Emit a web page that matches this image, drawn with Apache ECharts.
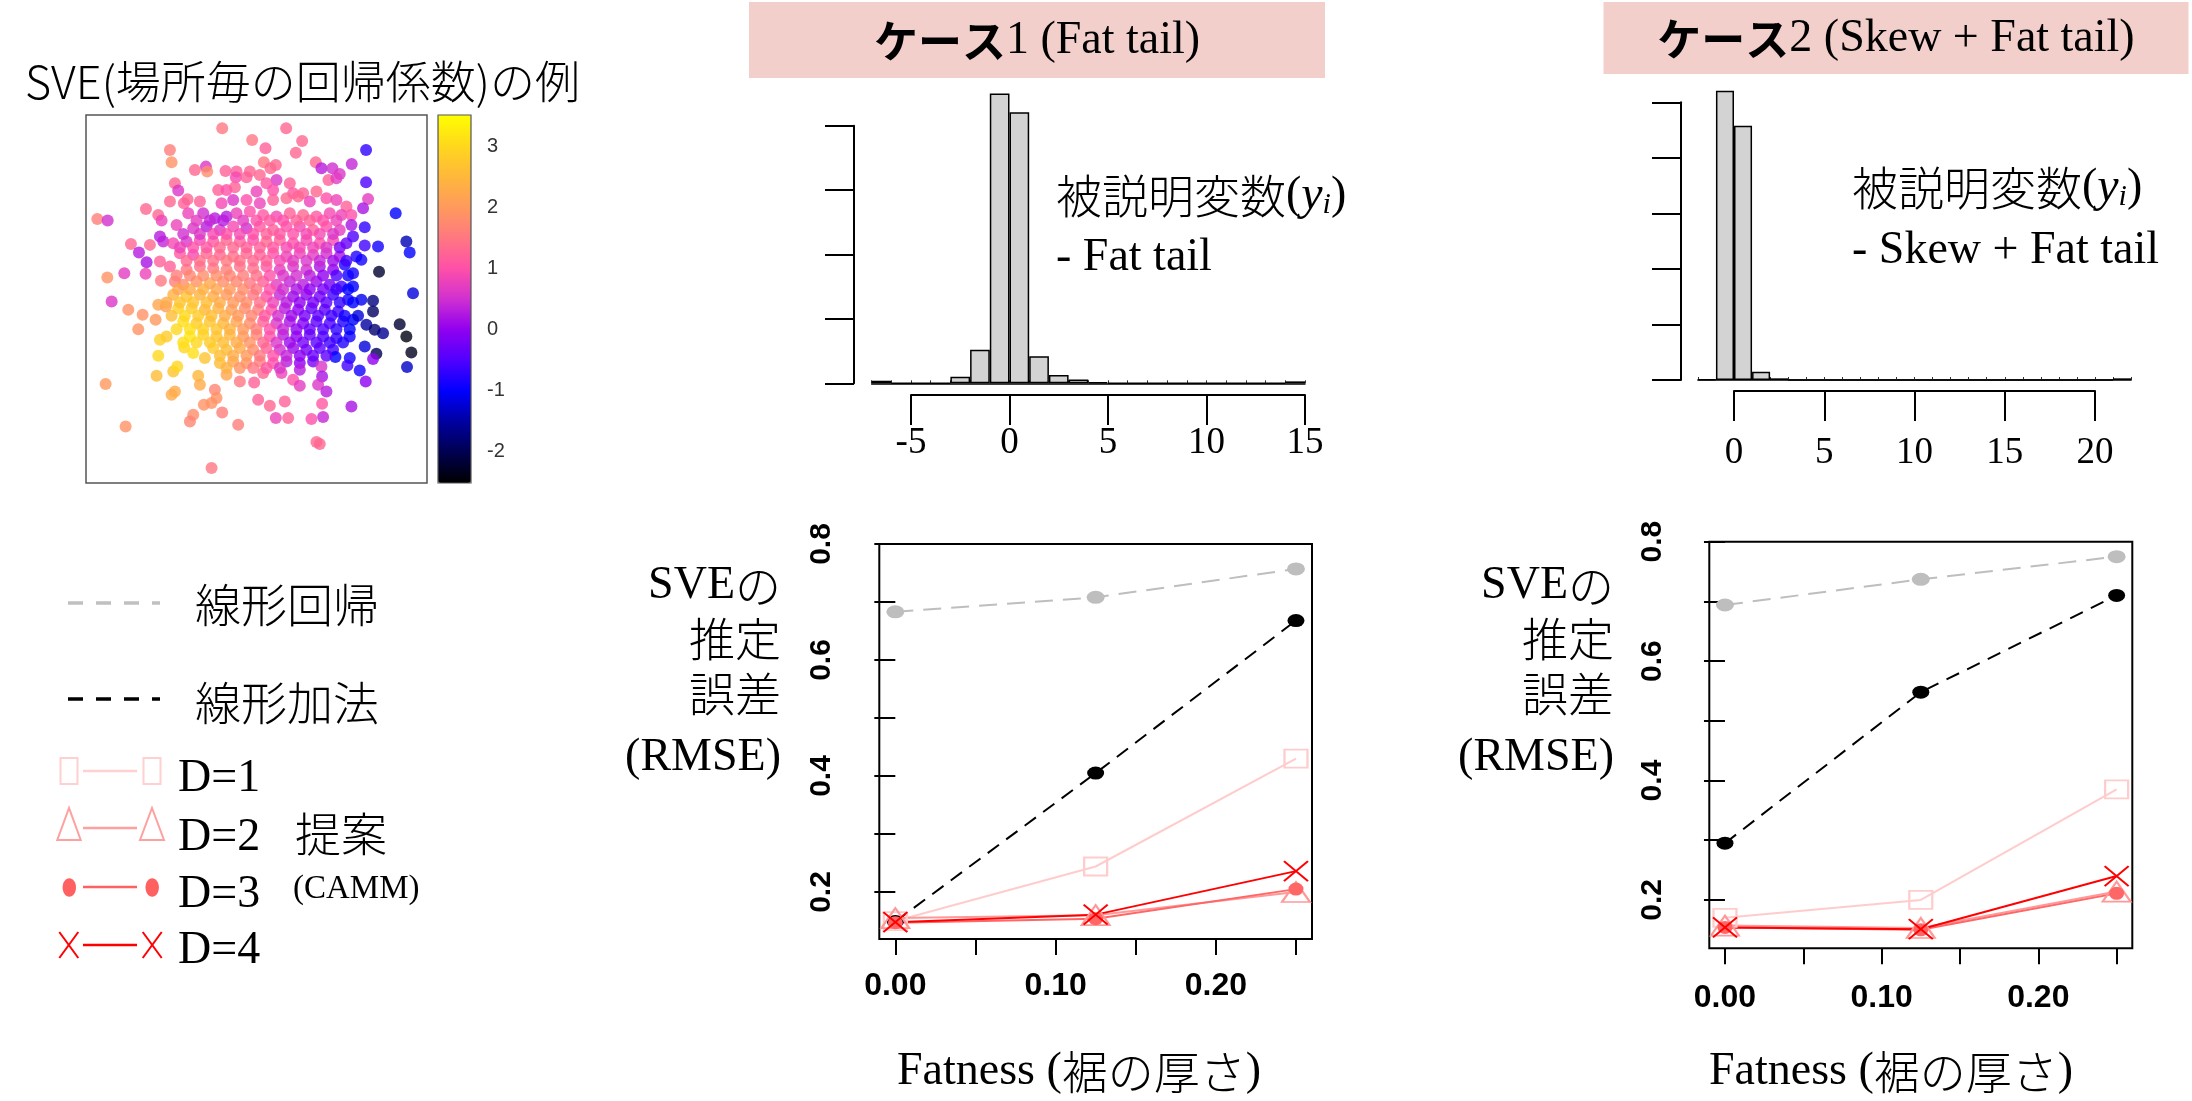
<!DOCTYPE html>
<html><head><meta charset="utf-8">
<script src="https://cdn.jsdelivr.net/npm/echarts@6/dist/echarts.min.js"></script>
<style>html,body{margin:0;padding:0;background:#fff}#c{width:2192px;height:1101px}</style>
</head><body><div id="c"></div><script>
// ---------- DATA ----------
// SVE example: [easting, northing, local coefficient]
const svePoints = [
[4.87,11.15,1.5],[6.79,11.15,1.3],[5.77,10.80,1.5],[7.27,10.77,1.3],[6.17,10.55,1.2],[7.08,10.42,1.3],[3.30,10.50,1.6],[9.19,10.50,-0.7],
[3.35,10.13,1.9],[4.38,10.00,0.6],[4.05,9.90,1.3],[4.42,9.85,1.8],[4.97,9.87,1.2],[5.30,9.85,1.2],[5.70,9.85,1.3],[6.12,10.13,1.5],[6.48,10.05,1.3],[6.32,9.95,1.3],[7.68,10.13,1.3],[7.85,9.95,0.3],[8.18,9.95,0.5],[8.76,10.08,0.4],[8.40,9.78,0.6],
[5.28,9.68,0.9],[5.60,9.68,1.2],[6.00,9.75,1.3],[6.50,9.60,0.6],[6.20,9.50,1.1],[6.90,9.50,1.2],[8.06,9.60,1.2],[8.30,9.65,0.7],[9.19,9.53,-0.5],[3.45,9.50,1.3],[3.55,9.28,0.6],[4.75,9.30,1.2],[5.00,9.30,1.0],[5.25,9.38,1.2],[5.90,9.25,0.8],[6.40,9.30,1.0],[7.00,9.20,1.1],[7.70,9.25,1.3],[7.30,9.20,1.2],
[3.30,8.95,1.3],[3.83,9.02,1.3],[3.72,8.90,1.2],[4.20,8.95,1.2],[4.85,8.90,0.9],[5.20,9.00,0.6],[5.60,9.00,1.0],[6.00,8.90,0.8],[6.40,9.00,1.2],[6.80,9.05,1.3],[7.15,9.10,1.3],[7.50,8.95,0.8],[8.00,9.05,1.0],[8.30,9.00,0.8],[8.60,8.80,1.2],[9.25,9.03,0.7],[9.10,8.75,0.2],[2.58,8.73,1.3],[2.95,8.55,1.3],[3.05,8.38,0.8],[1.12,8.43,1.6],[1.43,8.38,0.5],
[3.85,8.60,0.8],[4.30,8.60,0.5],[4.65,8.45,0.3],[5.00,8.50,0.3],[5.30,8.60,0.8],[5.70,8.65,1.0],[6.10,8.55,1.1],[6.50,8.50,0.9],[6.90,8.60,1.2],[7.30,8.55,1.3],[7.70,8.50,1.1],[8.10,8.60,0.9],[8.45,8.55,0.8],[8.75,8.55,1.0],[8.75,8.25,0.2],[10.08,8.60,-1.0],[9.15,8.18,-0.7],[3.50,8.25,0.8],[4.00,8.15,0.6],[4.40,8.20,0.3],[4.80,8.10,0.6],[5.20,8.20,0.9],[5.60,8.15,0.5],[6.00,8.20,1.1],[6.40,8.10,1.2],[6.80,8.20,1.0],[7.20,8.20,0.9],[7.60,8.10,1.2],[8.00,8.20,1.0],[8.40,8.10,0.7],
[2.13,7.68,1.3],[2.37,7.42,0.3],[2.70,7.65,1.3],[3.10,7.75,0.4],[3.00,7.90,0.3],[3.40,7.70,0.9],[3.80,7.75,0.6],[4.20,7.80,0.9],[4.60,7.75,1.1],[5.00,7.80,1.3],[5.40,7.75,1.2],[5.80,7.80,1.0],[6.20,7.75,1.3],[6.60,7.80,1.2],[7.00,7.70,1.0],[7.40,7.80,0.9],[7.80,7.70,1.0],[8.20,7.80,0.9],[8.60,7.70,-0.3],[8.80,7.90,-0.5],[9.15,7.63,-0.6],[9.55,7.60,-0.9],[10.40,7.75,-1.4],[10.50,7.42,-1.0],[3.60,7.40,1.1],[4.00,7.35,0.9],[4.40,7.40,1.3],[4.80,7.35,1.3],[5.20,7.30,1.4],[5.60,7.40,1.3],[6.00,7.35,1.2],[6.40,7.40,1.0],[6.80,7.30,0.8],[7.20,7.40,0.8],[7.60,7.35,0.7],[8.00,7.40,0.5],[8.40,7.30,0.2],[8.90,7.30,-0.8],[9.05,7.20,-0.9],
[2.60,7.13,0.2],[3.00,7.15,1.2],[3.30,7.00,1.2],[1.42,6.67,1.9],[1.93,6.80,0.7],[2.57,6.78,0.8],[3.03,6.57,1.5],[3.45,6.55,1.6],[3.80,6.90,1.5],[4.20,7.00,1.4],[4.60,6.95,1.5],[5.00,6.90,1.6],[5.40,7.00,1.4],[5.80,6.95,1.4],[6.20,7.00,1.1],[6.60,6.90,0.7],[7.00,7.00,0.6],[7.40,6.90,0.5],[7.80,7.00,0.2],[8.20,6.90,0.0],[8.55,7.05,-0.8],[8.80,6.80,-0.9],[9.58,6.84,-2.2],[3.70,6.45,1.8],[4.10,6.55,1.9],[4.50,6.50,2.2],[4.90,6.55,1.8],[5.30,6.55,1.7],[5.70,6.50,1.5],[6.10,6.55,1.2],[6.50,6.45,0.7],[6.90,6.55,0.4],[7.30,6.45,0.3],[7.70,6.55,0.1],[8.10,6.45,-0.2],[8.45,6.40,-0.6],[8.80,6.40,-1.0],
[1.55,5.95,0.6],[10.60,6.20,-1.2],[3.40,6.15,2.4],[3.80,6.10,2.7],[4.20,6.15,2.4],[4.60,6.10,2.3],[5.00,6.15,2.0],[5.40,6.10,1.8],[5.80,6.15,1.5],[6.20,6.10,1.0],[6.60,6.15,0.4],[7.00,6.10,0.1],[7.40,6.15,0.0],[7.80,6.10,-0.2],[8.20,6.15,-0.6],[8.65,6.00,-0.9],[9.05,6.00,-1.1],[9.40,5.97,-1.7],[2.05,5.70,1.9],[2.48,5.55,1.9],[2.95,5.85,2.2],[3.18,5.80,2.1],[3.55,5.75,2.9],[3.95,5.75,2.8],[4.35,5.70,2.5],[4.75,5.75,2.4],[5.15,5.70,2.1],[5.55,5.75,1.8],[5.95,5.70,1.6],[6.35,5.70,1.0],[6.75,5.75,0.3],[7.15,5.70,0.0],[7.55,5.75,-0.3],[7.95,5.70,-0.4],[8.35,5.65,-0.6],[9.40,5.65,-1.9],[2.87,5.40,2.0],
[2.35,5.12,1.9],[3.00,4.80,2.9],[3.20,4.90,2.8],[3.70,5.35,3.1],[4.10,5.30,2.8],[4.50,5.35,2.7],[4.90,5.30,2.5],[5.30,5.35,2.2],[5.70,5.30,1.8],[6.10,5.35,1.2],[6.50,5.30,0.6],[6.90,5.35,0.2],[7.30,5.30,-0.1],[7.70,5.35,-0.4],[8.10,5.30,-0.5],[8.50,5.35,-0.8],[8.80,5.40,-1.0],[9.20,5.25,-1.5],[9.45,5.10,-1.8],[9.70,5.00,-1.6],[10.20,5.27,-2.2],[10.40,4.90,-2.4],[3.90,4.90,3.2],[4.30,4.95,2.9],[4.70,4.90,2.7],[5.10,4.95,2.5],[5.50,4.90,2.0],[5.90,4.95,1.7],[6.30,4.90,1.0],[6.70,4.95,0.3],[7.10,4.90,0.0],[7.50,4.95,-0.3],[7.90,4.90,-0.5],[8.30,4.85,-0.7],[8.70,4.90,-0.9],
[2.95,4.32,3.0],[3.73,4.57,3.0],[4.00,4.40,3.1],[4.35,4.25,2.7],[4.60,4.55,2.8],[5.00,4.50,2.6],[5.40,4.55,2.3],[5.80,4.50,1.8],[6.20,4.55,1.2],[6.60,4.50,0.5],[7.00,4.55,0.1],[7.40,4.50,-0.2],[7.80,4.55,-0.4],[8.20,4.50,-0.6],[8.70,4.25,-0.9],[9.15,4.60,-1.2],[9.50,4.38,-2.0],[9.40,4.22,0.0],[8.27,4.28,-1.0],[10.55,4.42,-2.3],[4.80,4.10,2.6],[5.20,4.15,2.2],[5.60,4.10,1.9],[6.00,4.15,1.6],[6.40,4.10,1.0],[6.80,4.15,0.3],[7.20,4.10,0.0],[7.60,4.15,-0.2],[7.85,4.00,0.6],[8.63,4.03,-0.6],[9.00,3.88,-0.9],[10.42,3.98,-1.3],
[2.90,3.72,2.6],[3.40,3.85,2.7],[3.52,4.00,3.0],[4.15,3.72,2.5],[4.20,3.45,2.3],[4.65,3.30,1.7],[5.00,3.75,2.2],[5.40,3.55,1.5],[5.83,3.52,1.2],[6.10,3.80,1.3],[6.65,3.80,0.8],[7.20,3.90,0.3],[7.00,3.60,1.0],[7.20,3.42,0.7],[7.87,3.70,0.2],[7.75,3.45,0.6],[9.18,3.55,0.0],[1.37,3.47,2.0],[3.35,3.15,2.3],[3.45,3.25,2.3],[8.00,3.25,0.3],
[4.00,2.55,1.8],[3.90,2.35,1.7],[4.32,2.85,1.9],[4.55,2.90,1.9],[4.70,3.05,1.9],[4.87,2.62,1.6],[5.35,2.25,1.6],[5.95,3.00,1.2],[6.30,2.82,1.3],[6.75,2.95,1.2],[6.48,2.45,0.8],[6.85,2.45,1.2],[7.55,2.42,1.0],[7.90,2.48,0.4],[7.87,2.88,1.1],[8.75,2.80,0.2],[7.70,1.73,1.3],[7.80,1.67,1.3],[1.97,2.20,1.9],[4.55,0.95,1.5],
// denser core (read between the rows above)
[4.10,8.38,0.7],[4.50,8.38,0.4],[4.90,8.38,0.3],[5.50,8.38,0.7],[5.90,8.38,1.0],[6.30,8.38,1.1],[6.70,8.38,1.0],[7.10,8.38,1.2],[7.50,8.38,1.2],[7.90,8.38,1.0],[8.30,8.38,0.8],
[3.70,7.98,0.5],[4.20,7.98,0.6],[4.60,7.98,0.9],[5.00,7.98,1.0],[5.40,7.98,0.9],[5.80,7.98,1.0],[6.20,7.98,1.2],[6.60,7.98,1.1],[7.00,7.98,1.0],[7.40,7.98,0.9],[7.80,7.98,0.9],[8.20,7.98,0.6],
[3.60,7.57,0.8],[4.00,7.57,1.0],[4.40,7.57,1.1],[4.80,7.57,1.3],[5.20,7.57,1.3],[5.60,7.57,1.2],[6.00,7.57,1.2],[6.40,7.57,1.1],[6.80,7.57,0.9],[7.20,7.57,0.9],[7.60,7.57,0.8],[8.00,7.57,0.6],[8.40,7.57,-0.2],
[3.80,7.17,1.3],[4.20,7.17,1.4],[4.60,7.17,1.4],[5.00,7.17,1.5],[5.40,7.17,1.4],[5.80,7.17,1.3],[6.20,7.17,1.2],[6.60,7.17,0.9],[7.00,7.17,0.7],[7.40,7.17,0.6],[7.80,7.17,0.4],[8.20,7.17,0.1],[8.60,7.17,-0.6],
[3.50,6.73,1.6],[3.90,6.73,1.7],[4.30,6.73,1.8],[4.70,6.73,1.8],[5.10,6.73,1.7],[5.50,6.73,1.6],[5.90,6.73,1.4],[6.30,6.73,1.0],[6.70,6.73,0.6],[7.10,6.73,0.5],[7.50,6.73,0.3],[7.90,6.73,0.0],[8.30,6.73,-0.5],[8.65,6.73,-0.9],
[3.55,6.32,2.2],[3.90,6.32,2.3],[4.30,6.32,2.4],[4.70,6.32,2.2],[5.10,6.32,2.0],[5.50,6.32,1.8],[5.90,6.32,1.5],[6.30,6.32,1.0],[6.70,6.32,0.5],[7.10,6.32,0.2],[7.50,6.32,0.0],[7.90,6.32,-0.2],[8.30,6.32,-0.6],[8.65,6.32,-1.0],
[3.20,5.92,2.3],[3.60,5.92,2.7],[4.00,5.92,2.7],[4.40,5.92,2.6],[4.80,5.92,2.3],[5.20,5.92,2.0],[5.60,5.92,1.8],[6.00,5.92,1.4],[6.40,5.92,0.8],[6.80,5.92,0.3],[7.20,5.92,0.0],[7.60,5.92,-0.2],[8.00,5.92,-0.4],[8.40,5.92,-0.7],[8.80,5.92,-1.0],
[3.35,5.52,2.6],[3.75,5.52,3.0],[4.15,5.52,2.8],[4.55,5.52,2.6],[4.95,5.52,2.3],[5.35,5.52,2.0],[5.75,5.52,1.7],[6.15,5.52,1.1],[6.55,5.52,0.5],[6.95,5.52,0.1],[7.35,5.52,-0.2],[7.75,5.52,-0.4],[8.15,5.52,-0.6],[8.55,5.52,-0.9],[8.95,5.52,-1.2],
[3.50,5.12,3.0],[3.90,5.12,3.1],[4.30,5.12,2.9],[4.70,5.12,2.7],[5.10,5.12,2.4],[5.50,5.12,2.0],[5.90,5.12,1.6],[6.30,5.12,1.0],[6.70,5.12,0.4],[7.10,5.12,0.0],[7.50,5.12,-0.3],[7.90,5.12,-0.5],[8.30,5.12,-0.7],[8.70,5.12,-1.0],
[3.70,4.72,3.1],[4.10,4.72,3.0],[4.50,4.72,2.8],[4.90,4.72,2.6],[5.30,4.72,2.3],[5.70,4.72,1.9],[6.10,4.72,1.3],[6.50,4.72,0.6],[6.90,4.72,0.1],[7.30,4.72,-0.2],[7.70,4.72,-0.4],[8.10,4.72,-0.6],[8.50,4.72,-0.8],
[4.80,4.32,2.6],[5.20,4.32,2.3],[5.60,4.32,2.0],[6.00,4.32,1.5],[6.40,4.32,1.0],[6.80,4.32,0.4],[7.20,4.32,0.0],[7.60,4.32,-0.3],[8.00,4.32,-0.4],
[5.00,3.95,2.4],[5.40,3.95,1.9],[5.80,3.95,1.5],[6.20,3.95,1.1],[6.60,3.95,0.6]
];
const colorbarTicks = [-2, -1, 0, 1, 2, 3];

// Histogram case 1 (bins of width 1, lower edges)
const hist1Bins   = [-7,-6,-5,-4,-3,-2,-1,0,1,2,3,4,5,6,7,8,9,10,11,12,13,14];
const hist1Counts = [ 4, 0, 0, 0,10,52,450,421,42,13,6,2,0,0,0,0,0,0,0,0,0,3];
// Histogram case 2
const hist2Bins   = [-2,-1,0,1,2,3,4,5,6,7,8,9,10,11,12,13,14,15,16,17,18,19,20,21];
const hist2Counts = [ 1,521,458,15,3,0,0,0,0,0,0,0,0,0,0,0,0,0,0,0,0,0,0,3];

// RMSE vs fatness
const fatness = [0, 0.125, 0.25];
const c1Linear   = [0.683, 0.708, 0.757];
const c1Additive = [0.149, 0.405, 0.668];
const c1D1 = [0.150, 0.244, 0.430];
const c1D2 = [0.155, 0.160, 0.200];
const c1D3 = [0.147, 0.154, 0.205];
const c1D4 = [0.148, 0.161, 0.236];
const c2Linear   = [0.694, 0.737, 0.775];
const c2Additive = [0.295, 0.548, 0.710];
const c2D1 = [0.170, 0.200, 0.385];
const c2D2 = [0.157, 0.153, 0.214];
const c2D3 = [0.154, 0.150, 0.211];
const c2D4 = [0.154, 0.151, 0.240];
const fatTicks  = [0, 0.05, 0.1, 0.15, 0.2, 0.25];
const fatLabels = [0, 0.1, 0.2];
const rmseTicks  = [0.2, 0.3, 0.4, 0.5, 0.6, 0.7, 0.8];
const rmseLabels = [0.2, 0.4, 0.6, 0.8];

// ---------- CHART ----------
const CJK = '"Noto Sans CJK JP", "Noto Sans CJK SC", sans-serif';
const SERIF = '"Liberation Serif", "DejaVu Serif", serif';
const SANS = '"Liberation Sans", Arial, sans-serif';

const chart = echarts.init(document.getElementById('c'), null, {renderer: 'canvas'});

const blk = {color: '#000', width: 2};
function histX(gi, bins) {
  return {gridIndex: gi, type: 'category', data: bins.map(String), boundaryGap: true,
    axisLine: {show: true, onZero: false, lineStyle: {color: '#000', width: 1.5}},
    axisTick: {show: true, inside: true, length: 3, lineStyle: {color: '#333', width: 1}},
    axisLabel: {show: false}, splitLine: {show: false}};
}
function histY(gi, max, offset) {
  return {gridIndex: gi, type: 'value', min: 0, max: max, interval: 100, offset: offset,
    axisLine: {show: true, lineStyle: blk}, axisTick: {show: true, length: 29, lineStyle: blk},
    axisLabel: {show: false}, splitLine: {show: false}};
}
function histAxis(gi, min, max, margin) {
  return {gridIndex: gi, type: 'value', min: min, max: max, interval: 5,
    axisLine: {show: true, onZero: false, lineStyle: blk},
    axisTick: {show: true, length: 30, lineStyle: blk},
    axisLabel: {margin: margin, fontFamily: SERIF, fontSize: 37, color: '#000'},
    splitLine: {show: false}};
}
function fatAxis(gi, margin) {
  return {gridIndex: gi, type: 'value', min: -0.01, max: 0.26,
    axisLine: {show: false},
    axisTick: {show: true, length: 16, customValues: fatTicks, lineStyle: blk},
    axisLabel: {customValues: fatLabels, formatter: v => v.toFixed(2), margin: margin,
      fontFamily: SANS, fontSize: 32, fontWeight: 'bold', color: '#000'},
    splitLine: {show: false}};
}
function rmseAxis(gi, margin) {
  return {gridIndex: gi, type: 'value', min: 0.119, max: 0.8,
    axisLine: {show: false},
    axisTick: {show: true, length: 21, customValues: rmseTicks, lineStyle: blk},
    axisLabel: {customValues: rmseLabels, rotate: 90, margin: margin, formatter: v => String(v),
      fontFamily: SANS, fontSize: 30, fontWeight: 'bold', color: '#000'},
    splitLine: {show: false}};
}
const hidden = (gi, min, max) => ({gridIndex: gi, type: 'value', min: min, max: max, show: false});

function lines(gi, lin, add, d1, d2, d3, d4) {
  const pts = arr => fatness.map((f, i) => [f, arr[i]]);
  const base = {type: 'line', xAxisIndex: gi, yAxisIndex: gi, silent: true, animation: false};
  const clear = 'rgba(0,0,0,0)';
  return [
    Object.assign({}, base, {name: '線形回帰', data: pts(lin), symbol: 'circle', symbolSize: [18, 13],
      itemStyle: {color: '#bebebe'}, lineStyle: {color: '#bebebe', width: 2, type: [18, 10]}}),
    Object.assign({}, base, {name: '線形加法', data: pts(add), symbol: 'circle', symbolSize: [17, 13],
      itemStyle: {color: '#000'}, lineStyle: {color: '#000', width: 2, type: [14, 9]}}),
    Object.assign({}, base, {name: 'D=1', data: pts(d1), symbol: 'rect', symbolSize: [23, 18],
      itemStyle: {color: clear, borderColor: '#ffcccc', borderWidth: 2}, lineStyle: {color: '#ffcccc', width: 2}}),
    Object.assign({}, base, {name: 'D=2', data: pts(d2), symbol: 'triangle', symbolSize: [28, 20],
      itemStyle: {color: clear, borderColor: '#ff9999', borderWidth: 2}, lineStyle: {color: '#ff9999', width: 2}}),
    Object.assign({}, base, {name: 'D=3', data: pts(d3), symbol: 'circle', symbolSize: [15, 13],
      itemStyle: {color: '#ff6666'}, lineStyle: {color: '#ff6666', width: 2}}),
    Object.assign({}, base, {name: 'D=4', data: pts(d4), symbol: 'path://M0,0L24,20M24,0L0,20', symbolSize: [24, 20],
      itemStyle: {color: clear, borderColor: '#ff0000', borderWidth: 2}, lineStyle: {color: '#ff0000', width: 2}})
  ];
}

// text helpers
const rich = {
  c: {fontFamily: CJK, fontSize: 46, fill: '#000', fontWeight: 300},
  s: {fontFamily: SERIF, fontSize: 46, fill: '#000'},
  i: {fontFamily: SERIF, fontSize: 48, fontStyle: 'italic', fill: '#000'},
  sub: {fontFamily: SERIF, fontSize: 30, fontStyle: 'italic', fill: '#000', verticalAlign: 'bottom'},
  b: {fontFamily: CJK, fontSize: 44, fontWeight: 'bold', fill: '#000'},
  h: {fontFamily: SERIF, fontSize: 46, fill: '#000'},
  cam: {fontFamily: SERIF, fontSize: 33, fill: '#000'}
};
function T(x, y, text, align) {
  return {type: 'text', x: x, y: y, silent: true, z: 100,
    style: {text: text, rich: rich, fill: '#000', fontFamily: CJK, fontSize: 46,
      align: align || 'left', verticalAlign: 'middle', textAlign: align || 'left', textVerticalAlign: 'middle'}};
}
function L(x1, y1, x2, y2, stroke, w, dash) {
  return {type: 'line', silent: true, z: 100, shape: {x1: x1, y1: y1, x2: x2, y2: y2},
    style: {stroke: stroke, lineWidth: w, lineDash: dash || null}};
}

const legendGraphics = [
  L(68, 603, 160, 603, '#c0c0c0', 3.5, [15, 13]),
  L(68, 699, 160, 699, '#000', 3.5, [15, 13]),
  T(195, 605, '{c|線形回帰}'),
  T(195, 703, '{c|線形加法}'),
  // D=1
  L(83, 771, 137, 771, '#ffd0d0', 2.5),
  {type: 'rect', silent: true, z: 100, shape: {x: 60.5, y: 758, width: 17, height: 26}, style: {fill: 'none', stroke: '#ffd0d0', lineWidth: 2}},
  {type: 'rect', silent: true, z: 100, shape: {x: 143.5, y: 758, width: 17, height: 26}, style: {fill: 'none', stroke: '#ffd0d0', lineWidth: 2}},
  // D=2
  L(83, 828, 137, 828, '#ffa0a0', 2.5),
  {type: 'polygon', silent: true, z: 100, shape: {points: [[69, 808], [57.3, 840], [80.7, 840]]}, style: {fill: 'none', stroke: '#ffa0a0', lineWidth: 2}},
  {type: 'polygon', silent: true, z: 100, shape: {points: [[152, 808], [140, 840], [164, 840]]}, style: {fill: 'none', stroke: '#ffa0a0', lineWidth: 2}},
  // D=3
  L(83, 887, 137, 887, '#ff6060', 2.5),
  {type: 'ellipse', silent: true, z: 100, shape: {cx: 69.3, cy: 887.5, rx: 6.7, ry: 9.2}, style: {fill: '#ff6060'}},
  {type: 'ellipse', silent: true, z: 100, shape: {cx: 152.2, cy: 887.5, rx: 6.7, ry: 9.2}, style: {fill: '#ff6060'}},
  // D=4
  L(83, 945, 137, 945, '#ff0000', 2.5),
  L(59.3, 932, 78.3, 958, '#ff0000', 2), L(78.3, 932, 59.3, 958, '#ff0000', 2),
  L(142.7, 932, 161.7, 958, '#ff0000', 2), L(161.7, 932, 142.7, 958, '#ff0000', 2),
  T(178, 779, '{s|D=1}'), T(178, 838, '{s|D=2}'), T(178, 895, '{s|D=3}'), T(178, 951, '{s|D=4}'),
  T(295, 834, '{c|提案}'),
  T(293, 889, '{cam|(CAMM)}')
];

const option = {
  animation: false,
  backgroundColor: '#fff',
  grid: [
    {left: 86, top: 115, width: 341, height: 368, show: true, borderColor: '#555', borderWidth: 1.5, backgroundColor: 'rgba(0,0,0,0)'},
    {left: 438, top: 115, width: 33, height: 368, show: true, borderColor: '#555', borderWidth: 1.2, backgroundColor: 'rgba(0,0,0,0)', z: 10},
    {left: 871.6, top: 125.7, width: 433.4, height: 257.6},
    {left: 911, top: 385, width: 394, height: 10},
    {left: 1697.9, top: 102.3, width: 433.2, height: 277.7},
    {left: 1734, top: 381, width: 361, height: 10},
    {left: 879.3, top: 544, width: 432.7, height: 395, show: true, borderColor: '#000', borderWidth: 2, backgroundColor: 'rgba(0,0,0,0)'},
    {left: 1709.3, top: 541.7, width: 423, height: 406.6, show: true, borderColor: '#000', borderWidth: 2, backgroundColor: 'rgba(0,0,0,0)'}
  ],
  xAxis: [
    hidden(0, 0.78, 11.02),
    hidden(1, 0, 1),
    histX(2, hist1Bins),
    histAxis(3, -5, 15, 30),
    histX(4, hist2Bins),
    histAxis(5, 0, 20, 44),
    fatAxis(6, 31),
    fatAxis(7, 34)
  ],
  yAxis: [
    hidden(0, 0.5, 11.55),
    {gridIndex: 1, type: 'value', min: -2.51, max: 3.52, position: 'right',
      axisLine: {show: false},
      axisTick: {show: true, length: 9, customValues: colorbarTicks, lineStyle: {color: '#555', width: 1.5}},
      axisLabel: {customValues: colorbarTicks, margin: 16, fontFamily: SANS, fontSize: 20, color: '#333'},
      splitLine: {show: false}},
    histY(2, 400, 17.6),
    hidden(3, 0, 1),
    histY(4, 500, 16.9),
    hidden(5, 0, 1),
    rmseAxis(6, 43),
    rmseAxis(7, 42)
  ],
  visualMap: [{
    type: 'continuous', seriesIndex: 0, dimension: 2, min: -2.51, max: 3.52,
    left: 438, top: 115, itemWidth: 33, itemHeight: 368, padding: 0,
    calculable: false, hoverLink: false, text: null, orient: 'vertical',
    inRange: {color: ['#000000', '#000050', '#0000a0', '#0000ff', '#5000ff', '#9000f0', '#d030d0',
      '#ff50a8', '#ff7880', '#ff9a5c', '#ffb83a', '#ffd81c', '#ffff00']}
  }],
  series: [
    {type: 'scatter', xAxisIndex: 0, yAxisIndex: 0, data: svePoints, symbol: 'circle', symbolSize: 12, silent: true},
    {type: 'bar', xAxisIndex: 2, yAxisIndex: 2, data: hist1Counts, barWidth: '100%', barCategoryGap: '0%', clip: false, silent: true,
      itemStyle: {color: '#d3d3d3', borderColor: '#000', borderWidth: 1.5}},
    {type: 'bar', xAxisIndex: 4, yAxisIndex: 4, data: hist2Counts, barWidth: '100%', barCategoryGap: '0%', clip: false, silent: true,
      itemStyle: {color: '#d3d3d3', borderColor: '#000', borderWidth: 1.5}}
  ].concat(lines(6, c1Linear, c1Additive, c1D1, c1D2, c1D3, c1D4))
   .concat(lines(7, c2Linear, c2Additive, c2D1, c2D2, c2D3, c2D4)),
  graphic: {elements: [
    {type: 'rect', silent: true, z: 1, shape: {x: 749, y: 2, width: 576, height: 76}, style: {fill: '#f2cfcb'}},
    {type: 'rect', silent: true, z: 1, shape: {x: 1603.5, y: 2, width: 585, height: 72}, style: {fill: '#f2cfcb'}},
    T(1037, 41, '{b|ケース}{h|1 (Fat tail)}', 'center'),
    T(1896, 39, '{b|ケース}{h|2 (Skew + Fat tail)}', 'center'),
    {type: 'text', x: 25, y: 82, silent: true, z: 100,
      style: {text: 'SVE(場所毎の回帰係数)の例', fill: '#000', fontFamily: CJK, fontSize: 45, fontWeight: 300,
        align: 'left', verticalAlign: 'middle', textAlign: 'left', textVerticalAlign: 'middle'}},
    T(1056, 196, '{c|被説明変数}{s|(}{i|y}{sub|i}{s|)}'),
    T(1056, 258, '{s|- Fat tail}'),
    T(1852, 188, '{c|被説明変数}{s|(}{i|y}{sub|i}{s|)}'),
    T(1852, 251, '{s|- Skew + Fat tail}'),
    T(781, 586, '{s|SVE}{c|の}', 'right'),
    T(781, 639, '{c|推定}', 'right'),
    T(781, 694, '{c|誤差}', 'right'),
    T(781, 758, '{s|(RMSE)}', 'right'),
    T(1614, 586, '{s|SVE}{c|の}', 'right'),
    T(1614, 639, '{c|推定}', 'right'),
    T(1614, 694, '{c|誤差}', 'right'),
    T(1614, 758, '{s|(RMSE)}', 'right'),
    T(1079, 1072, '{s|Fatness (}{c|裾の厚さ}{s|)}', 'center'),
    T(1891, 1072, '{s|Fatness (}{c|裾の厚さ}{s|)}', 'center')
  ].concat(legendGraphics)}
};
chart.setOption(option);
</script></body></html>
